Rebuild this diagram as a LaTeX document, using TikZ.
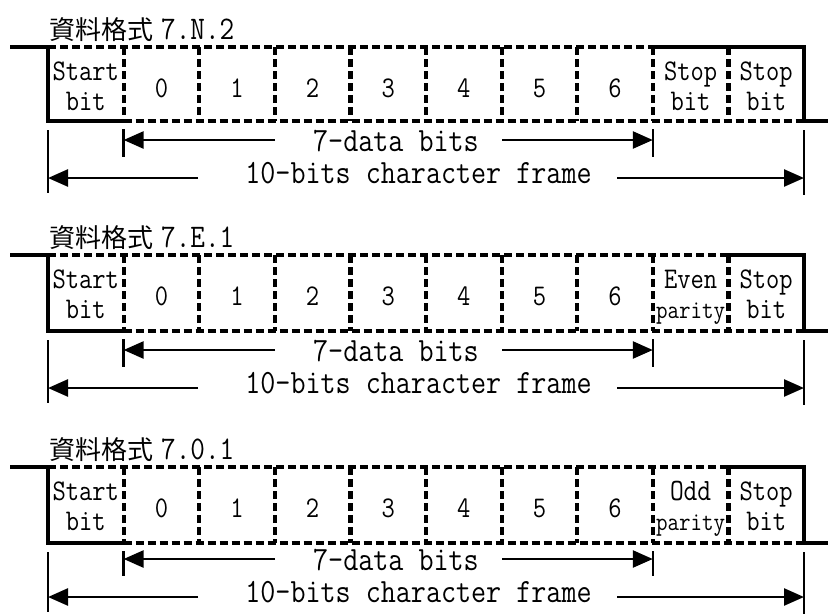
\documentclass[tikz,border=0pt]{standalone}
\usepackage{fontspec}
\usetikzlibrary{arrows.meta}
\newfontfamily\latf[FakeStretch=0.86]{Latin Modern Mono}
\newfontfamily\cjkf{Noto Sans CJK TC}
\tikzset{
  solidln/.style={line width=3.5pt, line join=miter},
  dashln/.style={line width=4.2pt, dash pattern=on 8pt off 4pt},
  dimln/.style={line width=2.5pt, -{Triangle[length=20pt,width=17pt]}},
  tickln/.style={line width=2.5pt},
  celltxt/.style={inner sep=0pt, anchor=base, font=\latf\fontsize{30}{30}\selectfont},
  digtxt/.style={inner sep=0pt, anchor=base, font=\latf\fontsize{30}{30}\selectfont},
  dimtxt/.style={inner sep=0pt, anchor=base, font=\latf\fontsize{34}{34}\selectfont},
  titletxt/.style={inner sep=0pt, anchor=base west},
}
% #1 prefix, #2 top y, #3 bottom y, #4 data-arrow y, #5 frame-arrow y,
% #6 index where solid top starts, #7 title, #8/#9 texts of cell 8
\newcommand\drawframe[9]{%
  \coordinate (#1-tl) at (10,#2);
  \coordinate (#1-br) at (828,#3);
  \foreach \i in {0,...,10} {
    \coordinate (#1-t\i) at ({48+75.6*\i},#2);
    \coordinate (#1-b\i) at ({48+75.6*\i},#3);
  }
  \draw[solidln] (#1-tl) -- (#1-t0) -- (#1-b0) -- (#1-b1);
  \draw[dashln] (#1-b1) -- (#1-b10);
  \draw[dashln] (#1-t0) -- (#1-t#6);
  \draw[solidln] (#1-t#6) -- (#1-t10) -- (#1-b10) -- (#1-br);
  \foreach \i in {1,...,9} {\draw[dashln] (#1-t\i) -- (#1-b\i);}
  % title
  \node[titletxt] (#1-title) at (49,{#2-8})
    {{\cjkf\fontsize{26}{26}\selectfont 資料格式}\hspace{8pt}{\latf\fontsize{33}{33}\selectfont #7}};
  % cell texts
  \node[celltxt] (#1-sa) at (85.8,{#2+33}) {Start};
  \node[celltxt] (#1-sb) at (85.8,{#2+63}) {bit};
  \foreach \i/\d in {1/0,2/1,3/2,4/3,5/4,6/5,7/6} {
    \node[digtxt] (#1-c\i) at ({48+75.6*(\i+0.5)},{#2+50}) {\d};
  }
  \node[celltxt] (#1-pa) at (690.6,{#2+33}) {#8};
  \node[celltxt] (#1-pb) at (690.6,{#2+63}) {#9};
  \node[celltxt] (#1-qa) at (766.2,{#2+33}) {Stop};
  \node[celltxt] (#1-qb) at (766.2,{#2+63}) {bit};
  % data-bits dimension
  \coordinate (#1-dA) at (123.6,#4);
  \coordinate (#1-dB) at (652.8,#4);
  \coordinate (#1-dL) at (275,#4);
  \coordinate (#1-dR) at (502,#4);
  \coordinate (#1-dAt) at (123.6,{#3+8});
  \coordinate (#1-dAb) at (123.6,{#4+17});
  \coordinate (#1-dBt) at (652.8,{#3+8});
  \coordinate (#1-dBb) at (652.8,{#4+17});
  \draw[tickln] (#1-dAt) -- (#1-dAb);
  \draw[tickln] (#1-dBt) -- (#1-dBb);
  \draw[dimln] (#1-dL) -- (#1-dA);
  \draw[dimln] (#1-dR) -- (#1-dB);
  \node[dimtxt] (#1-dtxt) at (396,{#4+11}) {7-data bits};
  % frame dimension
  \coordinate (#1-fA) at (48,#5);
  \coordinate (#1-fB) at (804,#5);
  \coordinate (#1-fL) at (198,#5);
  \coordinate (#1-fR) at (617,#5);
  \coordinate (#1-fAt) at (48,{#3+9});
  \coordinate (#1-fAb) at (48,{#5+15});
  \coordinate (#1-fBt) at (804,{#3+9});
  \coordinate (#1-fBb) at (804,{#5+17});
  \draw[tickln] (#1-fAt) -- (#1-fAb);
  \draw[tickln] (#1-fBt) -- (#1-fBb);
  \draw[dimln] (#1-fL) -- (#1-fA);
  \draw[dimln] (#1-fR) -- (#1-fB);
  \node[dimtxt] (#1-ftxt) at (418.5,{#5+5}) {10-bits character frame};
}
\begin{document}
\begin{tikzpicture}[x=1pt,y=-1pt]
  \fill[white] (0,0) rectangle (828,614);
  \useasboundingbox (0,0) rectangle (828,614);
  \drawframe{A}{47}{121}{140}{178}{8}{7.N.2}{Stop}{bit}
  \drawframe{B}{255}{331}{350}{388}{9}{7.E.1}{Even}{{\fontsize{26}{26}\selectfont parity}}
  \drawframe{C}{467}{543}{559}{597}{9}{7.0.1}{{\fontsize{31}{31}\selectfont Odd}}{{\fontsize{26}{26}\selectfont parity}}
\end{tikzpicture}
\end{document}
